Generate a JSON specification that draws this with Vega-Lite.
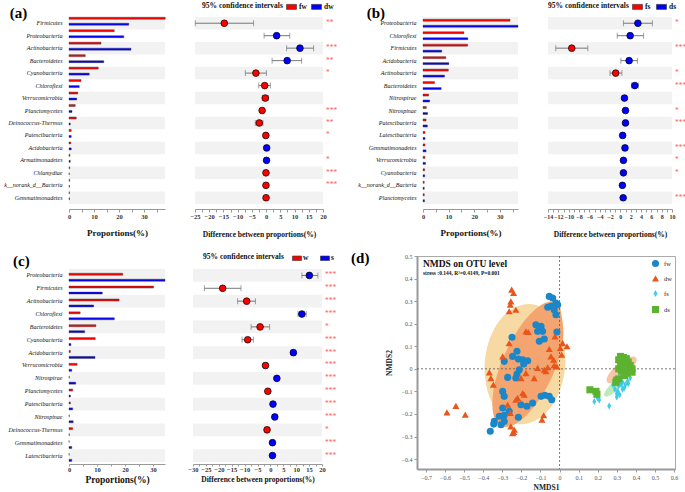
{
"$schema": "https://vega.github.io/schema/vega-lite/v6.json",
"padding": {"left": 3, "top": 1, "right": 0, "bottom": 0},
"spacing": 12,
"resolve": {"scale": {"x": "independent", "y": "independent", "fill": "independent", "shape": "independent", "opacity": "independent"}, "legend": {"fill": "independent", "shape": "independent"}},
"config": {"font": "Liberation Serif", "view": {"stroke": null}, "axis": {"labelFont": "Liberation Serif", "titleFont": "Liberation Serif", "grid": false, "labelOverlap": false}, "legend": {"labelFont": "Liberation Serif", "titleFont": "Liberation Serif"}, "title": {"font": "Liberation Serif"}},
"datasets": {
"a_bar": [
{"p": "Firmicutes", "r": 1, "fw": 38.5, "dw": 23.9},
{"p": "Proteobacteria", "r": 2, "fw": 18.1, "dw": 21.9},
{"p": "Actinobacteria", "r": 3, "fw": 12.8, "dw": 24.8},
{"p": "Bacteroidetes", "r": 4, "fw": 6.5, "dw": 13.9},
{"p": "Cyanobacteria", "r": 5, "fw": 11.7, "dw": 8.1},
{"p": "Chloroflexi", "r": 6, "fw": 4.8, "dw": 4.1},
{"p": "Verrucomicrobia", "r": 7, "fw": 3.5, "dw": 3.1},
{"p": "Planctomycetes", "r": 8, "fw": 2.5, "dw": 1.2},
{"p": "Deinococcus-Thermus", "r": 9, "fw": 2.9, "dw": 0.5},
{"p": "Patescibacteria", "r": 10, "fw": 0.9, "dw": 0.9},
{"p": "Acidobacteria", "r": 11, "fw": 0.7, "dw": 0.9},
{"p": "Armatimonadetes", "r": 12, "fw": 0.4, "dw": 0.5},
{"p": "Chlamydiae", "r": 13, "fw": 0.3, "dw": 0.1},
{"p": "k__norank_d__Bacteria", "r": 14, "fw": 0.3, "dw": 0.2},
{"p": "Gemmatimonadetes", "r": 15, "fw": 0.2, "dw": 0.2}
],
"a_ci": [
{"p": "Firmicutes", "r": 1, "d": -14.7, "lo": -24.9, "hi": -4.4, "g": "fw", "s": "**"},
{"p": "Proteobacteria", "r": 2, "d": 3.7, "lo": -0.7, "hi": 8.3, "g": "dw", "s": ""},
{"p": "Actinobacteria", "r": 3, "d": 11.9, "lo": 7.2, "hi": 16.7, "g": "dw", "s": "***"},
{"p": "Bacteroidetes", "r": 4, "d": 7.4, "lo": 2.1, "hi": 12.5, "g": "dw", "s": "**"},
{"p": "Cyanobacteria", "r": 5, "d": -3.6, "lo": -7.3, "hi": 0.1, "g": "fw", "s": "*"},
{"p": "Chloroflexi", "r": 6, "d": -0.5, "lo": -2.6, "hi": 1.5, "g": "fw", "s": ""},
{"p": "Verrucomicrobia", "r": 7, "d": -0.3, "lo": -1.3, "hi": 0.8, "g": "fw", "s": ""},
{"p": "Planctomycetes", "r": 8, "d": -1.4, "lo": -2.0, "hi": -0.8, "g": "fw", "s": "***"},
{"p": "Deinococcus-Thermus", "r": 9, "d": -2.4, "lo": -3.8, "hi": -1.1, "g": "fw", "s": "**"},
{"p": "Patescibacteria", "r": 10, "d": -0.1, "lo": -0.5, "hi": 0.3, "g": "fw", "s": "*"},
{"p": "Acidobacteria", "r": 11, "d": 0.2, "lo": -0.2, "hi": 0.6, "g": "dw", "s": ""},
{"p": "Armatimonadetes", "r": 12, "d": 0.15, "lo": 0.0, "hi": 0.3, "g": "dw", "s": "*"},
{"p": "Chlamydiae", "r": 13, "d": -0.05, "lo": -0.15, "hi": 0.05, "g": "fw", "s": "***"},
{"p": "k__norank_d__Bacteria", "r": 14, "d": -0.05, "lo": -0.15, "hi": 0.05, "g": "fw", "s": "***"},
{"p": "Gemmatimonadetes", "r": 15, "d": -0.02, "lo": -0.2, "hi": 0.15, "g": "fw", "s": ""}
],
"b_bar": [
{"p": "Proteobacteria", "r": 1, "fs": 34.0, "ds": 37.1},
{"p": "Chloroflexi", "r": 2, "fs": 16.0, "ds": 17.5},
{"p": "Firmicutes", "r": 3, "fs": 17.4, "ds": 7.3},
{"p": "Acidobacteria", "r": 4, "fs": 8.9, "ds": 10.1},
{"p": "Actinobacteria", "r": 5, "fs": 9.9, "ds": 8.4},
{"p": "Bacteroidetes", "r": 6, "fs": 4.5, "ds": 7.1},
{"p": "Nitrospirae", "r": 7, "fs": 2.2, "ds": 2.6},
{"p": "Nitrospinae", "r": 8, "fs": 1.3, "ds": 1.8},
{"p": "Patescibacteria", "r": 9, "fs": 1.2, "ds": 1.7},
{"p": "Latescibacteria", "r": 10, "fs": 0.8, "ds": 0.8},
{"p": "Gemmatimonadetes", "r": 11, "fs": 0.8, "ds": 1.2},
{"p": "Verrucomicrobia", "r": 12, "fs": 0.8, "ds": 1.0},
{"p": "Cyanobacteria", "r": 13, "fs": 0.65, "ds": 0.7},
{"p": "k__norank_d__Bacteria", "r": 14, "fs": 0.5, "ds": 0.5},
{"p": "Planctomycetes", "r": 15, "fs": 0.5, "ds": 0.6}
],
"b_ci": [
{"p": "Proteobacteria", "r": 1, "d": 3.4, "lo": 0.6, "hi": 6.2, "g": "ds", "s": "*"},
{"p": "Chloroflexi", "r": 2, "d": 1.9, "lo": -0.6, "hi": 4.5, "g": "ds", "s": ""},
{"p": "Firmicutes", "r": 3, "d": -9.4, "lo": -12.5, "hi": -6.3, "g": "fs", "s": "***"},
{"p": "Acidobacteria", "r": 4, "d": 1.7, "lo": 0.1, "hi": 3.3, "g": "ds", "s": ""},
{"p": "Actinobacteria", "r": 5, "d": -0.9, "lo": -2.0, "hi": 0.3, "g": "fs", "s": "*"},
{"p": "Bacteroidetes", "r": 6, "d": 2.8, "lo": 2.2, "hi": 3.5, "g": "ds", "s": "***"},
{"p": "Nitrospirae", "r": 7, "d": 0.8, "lo": 0.4, "hi": 1.2, "g": "ds", "s": ""},
{"p": "Nitrospinae", "r": 8, "d": 1.0, "lo": 0.7, "hi": 1.3, "g": "ds", "s": "*"},
{"p": "Patescibacteria", "r": 9, "d": 1.0, "lo": 0.7, "hi": 1.3, "g": "ds", "s": "***"},
{"p": "Latescibacteria", "r": 10, "d": 0.45, "lo": 0.25, "hi": 0.65, "g": "ds", "s": ""},
{"p": "Gemmatimonadetes", "r": 11, "d": 0.9, "lo": 0.6, "hi": 1.2, "g": "ds", "s": "***"},
{"p": "Verrucomicrobia", "r": 12, "d": 0.6, "lo": 0.4, "hi": 0.8, "g": "ds", "s": "*"},
{"p": "Cyanobacteria", "r": 13, "d": 0.6, "lo": 0.4, "hi": 0.8, "g": "ds", "s": "*"},
{"p": "k__norank_d__Bacteria", "r": 14, "d": 0.4, "lo": 0.2, "hi": 0.6, "g": "ds", "s": ""},
{"p": "Planctomycetes", "r": 15, "d": 0.55, "lo": 0.35, "hi": 0.75, "g": "ds", "s": "***"}
],
"c_bar": [
{"p": "Proteobacteria", "r": 1, "w": 19.2, "s": 34.3},
{"p": "Firmicutes", "r": 2, "w": 30.2, "s": 11.9},
{"p": "Actinobacteria", "r": 3, "w": 17.9, "s": 8.8},
{"p": "Chloroflexi", "r": 4, "w": 4.0, "s": 16.2},
{"p": "Bacteroidetes", "r": 5, "w": 9.6, "s": 5.6},
{"p": "Cyanobacteria", "r": 6, "w": 9.4, "s": 0.7},
{"p": "Acidobacteria", "r": 7, "w": 0.5, "s": 9.3},
{"p": "Verrucomicrobia", "r": 8, "w": 2.9, "s": 1.0},
{"p": "Nitrospirae", "r": 9, "w": 0.1, "s": 2.4},
{"p": "Planctomycetes", "r": 10, "w": 1.3, "s": 0.5},
{"p": "Patescibacteria", "r": 11, "w": 0.5, "s": 1.3},
{"p": "Nitrospinae", "r": 12, "w": 0.1, "s": 1.5},
{"p": "Deinococcus-Thermus", "r": 13, "w": 1.3, "s": 0.1},
{"p": "Gemmatimonadetes", "r": 14, "w": 0.05, "s": 1.0},
{"p": "Latescibacteria", "r": 15, "w": 0.05, "s": 1.0}
],
"c_ci": [
{"p": "Proteobacteria", "r": 1, "d": 15.1, "lo": 12.2, "hi": 18.4, "g": "s", "s": "***"},
{"p": "Firmicutes", "r": 2, "d": -18.5, "lo": -25.6, "hi": -11.4, "g": "w", "s": "***"},
{"p": "Actinobacteria", "r": 3, "d": -9.2, "lo": -12.7, "hi": -5.8, "g": "w", "s": "***"},
{"p": "Chloroflexi", "r": 4, "d": 12.2, "lo": 10.7, "hi": 13.9, "g": "s", "s": "***"},
{"p": "Bacteroidetes", "r": 5, "d": -4.0, "lo": -7.5, "hi": -0.3, "g": "w", "s": "*"},
{"p": "Cyanobacteria", "r": 6, "d": -8.8, "lo": -11.0, "hi": -6.6, "g": "w", "s": "***"},
{"p": "Acidobacteria", "r": 7, "d": 8.9, "lo": 8.1, "hi": 9.7, "g": "s", "s": "***"},
{"p": "Verrucomicrobia", "r": 8, "d": -1.9, "lo": -2.6, "hi": -1.2, "g": "w", "s": "***"},
{"p": "Nitrospirae", "r": 9, "d": 2.5, "lo": 2.0, "hi": 3.0, "g": "s", "s": "***"},
{"p": "Planctomycetes", "r": 10, "d": -1.0, "lo": -1.5, "hi": -0.5, "g": "w", "s": "***"},
{"p": "Patescibacteria", "r": 11, "d": 1.0, "lo": 0.6, "hi": 1.4, "g": "s", "s": "***"},
{"p": "Nitrospinae", "r": 12, "d": 1.7, "lo": 1.4, "hi": 2.0, "g": "s", "s": "***"},
{"p": "Deinococcus-Thermus", "r": 13, "d": -1.3, "lo": -2.1, "hi": -0.5, "g": "w", "s": "*"},
{"p": "Gemmatimonadetes", "r": 14, "d": 0.8, "lo": 0.5, "hi": 1.1, "g": "s", "s": "***"},
{"p": "Latescibacteria", "r": 15, "d": 0.8, "lo": 0.5, "hi": 1.1, "g": "s", "s": "***"}
],
"ell": [
{"e": "big", "i": 0, "x": -0.150, "y": 0.287}, {"e": "big", "i": 1, "x": -0.049, "y": 0.242}, {"e": "big", "i": 2, "x": 0.016, "y": 0.138}, {"e": "big", "i": 3, "x": 0.029, "y": 0.003}, {"e": "big", "i": 4, "x": -0.015, "y": -0.128}, {"e": "big", "i": 5, "x": -0.103, "y": -0.218}, {"e": "big", "i": 6, "x": -0.212, "y": -0.245}, {"e": "big", "i": 7, "x": -0.313, "y": -0.200}, {"e": "big", "i": 8, "x": -0.378, "y": -0.096}, {"e": "big", "i": 9, "x": -0.391, "y": 0.039}, {"e": "big", "i": 10, "x": -0.347, "y": 0.170}, {"e": "big", "i": 11, "x": -0.259, "y": 0.260},
{"e": "ora", "i": 0, "x": -0.014, "y": 0.296}, {"e": "ora", "i": 1, "x": 0.010, "y": 0.238}, {"e": "ora", "i": 2, "x": 0.018, "y": 0.125}, {"e": "ora", "i": 3, "x": -0.035, "y": -0.027}, {"e": "ora", "i": 4, "x": -0.125, "y": -0.158}, {"e": "ora", "i": 5, "x": -0.224, "y": -0.241}, {"e": "ora", "i": 6, "x": -0.307, "y": -0.254}, {"e": "ora", "i": 7, "x": -0.349, "y": -0.193}, {"e": "ora", "i": 8, "x": -0.342, "y": -0.075}, {"e": "ora", "i": 9, "x": -0.285, "y": 0.069}, {"e": "ora", "i": 10, "x": -0.195, "y": 0.201}, {"e": "ora", "i": 11, "x": -0.096, "y": 0.283},
{"e": "pea", "i": 0, "x": 0.400, "y": 0.050}, {"e": "pea", "i": 1, "x": 0.402, "y": 0.031}, {"e": "pea", "i": 2, "x": 0.383, "y": 0.003}, {"e": "pea", "i": 3, "x": 0.349, "y": -0.028}, {"e": "pea", "i": 4, "x": 0.308, "y": -0.052}, {"e": "pea", "i": 5, "x": 0.272, "y": -0.064}, {"e": "pea", "i": 6, "x": 0.250, "y": -0.060}, {"e": "pea", "i": 7, "x": 0.248, "y": -0.041}, {"e": "pea", "i": 8, "x": 0.267, "y": -0.013}, {"e": "pea", "i": 9, "x": 0.301, "y": 0.018}, {"e": "pea", "i": 10, "x": 0.342, "y": 0.042}, {"e": "pea", "i": 11, "x": 0.378, "y": 0.054},
{"e": "grn", "i": 0, "x": 0.325, "y": -0.050}, {"e": "grn", "i": 1, "x": 0.325, "y": -0.062}, {"e": "grn", "i": 2, "x": 0.313, "y": -0.081}, {"e": "grn", "i": 3, "x": 0.292, "y": -0.100}, {"e": "grn", "i": 4, "x": 0.268, "y": -0.116}, {"e": "grn", "i": 5, "x": 0.247, "y": -0.123}, {"e": "grn", "i": 6, "x": 0.235, "y": -0.120}, {"e": "grn", "i": 7, "x": 0.235, "y": -0.108}, {"e": "grn", "i": 8, "x": 0.247, "y": -0.090}, {"e": "grn", "i": 9, "x": 0.268, "y": -0.070}, {"e": "grn", "i": 10, "x": 0.292, "y": -0.055}, {"e": "grn", "i": 11, "x": 0.313, "y": -0.047}
],
"nmds_title": [
{"t": "NMDS on OTU level", "x": -0.716, "y": 0.452, "k": "main"},
{"t": "stress :0.144, R²=0.4149, P=0.001", "x": -0.716, "y": 0.417, "k": "sub"}
],
"nmds": [
{"g": "fw", "x": -0.054, "y": 0.321}, {"g": "fw", "x": -0.036, "y": 0.314}, {"g": "fw", "x": -0.019, "y": 0.292}, {"g": "fw", "x": -0.045, "y": 0.277}, {"g": "fw", "x": -0.028, "y": 0.262}, {"g": "fw", "x": -0.019, "y": 0.24}, {"g": "fw", "x": -0.062, "y": 0.273}, {"g": "fw", "x": -0.01, "y": 0.284}, {"g": "fw", "x": -0.124, "y": 0.195}, {"g": "fw", "x": -0.097, "y": 0.188}, {"g": "fw", "x": -0.115, "y": 0.166}, {"g": "fw", "x": -0.089, "y": 0.166}, {"g": "fw", "x": -0.106, "y": 0.122}, {"g": "fw", "x": -0.08, "y": 0.132}, {"g": "fw", "x": -0.014, "y": 0.163}, {"g": "fw", "x": -0.249, "y": 0.14}, {"g": "fw", "x": -0.223, "y": 0.078}, {"g": "fw", "x": -0.246, "y": 0.055}, {"g": "fw", "x": -0.216, "y": 0.043}, {"g": "fw", "x": -0.193, "y": 0.04}, {"g": "fw", "x": -0.167, "y": 0.036}, {"g": "fw", "x": -0.29, "y": 0.033}, {"g": "fw", "x": -0.188, "y": 0.021}, {"g": "fw", "x": -0.211, "y": -0.004}, {"g": "fw", "x": -0.223, "y": -0.023}, {"g": "fw", "x": -0.272, "y": -0.038}, {"g": "fw", "x": -0.229, "y": -0.041}, {"g": "fw", "x": -0.298, "y": -0.1}, {"g": "fw", "x": -0.29, "y": -0.122}, {"g": "fw", "x": -0.202, "y": -0.159}, {"g": "fw", "x": -0.171, "y": -0.166}, {"g": "fw", "x": -0.141, "y": -0.152}, {"g": "fw", "x": -0.097, "y": -0.122}, {"g": "fw", "x": -0.077, "y": -0.117}, {"g": "fw", "x": -0.054, "y": -0.122}, {"g": "fw", "x": -0.041, "y": -0.137}, {"g": "fw", "x": -0.298, "y": -0.174}, {"g": "fw", "x": -0.264, "y": -0.188}, {"g": "fw", "x": -0.316, "y": -0.21}, {"g": "fw", "x": -0.29, "y": -0.206}, {"g": "fw", "x": -0.216, "y": -0.215}, {"g": "fw", "x": -0.342, "y": -0.233}, {"g": "fw", "x": -0.345, "y": -0.245}, {"g": "fw", "x": -0.307, "y": -0.248}, {"g": "fw", "x": -0.29, "y": -0.233}, {"g": "fw", "x": -0.363, "y": -0.277},
{"g": "dw", "x": -0.251, "y": 0.351}, {"g": "dw", "x": -0.241, "y": 0.336}, {"g": "dw", "x": -0.255, "y": 0.299}, {"g": "dw", "x": -0.264, "y": 0.255}, {"g": "dw", "x": -0.229, "y": 0.262}, {"g": "dw", "x": -0.258, "y": 0.284}, {"g": "dw", "x": -0.176, "y": 0.166}, {"g": "dw", "x": -0.164, "y": 0.163}, {"g": "dw", "x": -0.264, "y": 0.114}, {"g": "dw", "x": -0.298, "y": 0.055}, {"g": "dw", "x": -0.024, "y": 0.144}, {"g": "dw", "x": -0.054, "y": 0.088}, {"g": "dw", "x": -0.045, "y": 0.055}, {"g": "dw", "x": -0.031, "y": 0.04}, {"g": "dw", "x": 0.004, "y": 0.092}, {"g": "dw", "x": 0.016, "y": 0.114}, {"g": "dw", "x": 0.039, "y": 0.1}, {"g": "dw", "x": 0.011, "y": 0.063}, {"g": "dw", "x": -0.115, "y": 0.004}, {"g": "dw", "x": -0.08, "y": -0.004}, {"g": "dw", "x": -0.062, "y": 0.007}, {"g": "dw", "x": -0.028, "y": 0.016}, {"g": "dw", "x": -0.014, "y": 0.011}, {"g": "dw", "x": -0.071, "y": -0.011}, {"g": "dw", "x": -0.368, "y": -0.016}, {"g": "dw", "x": -0.36, "y": -0.041}, {"g": "dw", "x": -0.347, "y": -0.07}, {"g": "dw", "x": -0.176, "y": -0.019}, {"g": "dw", "x": -0.202, "y": -0.041}, {"g": "dw", "x": -0.133, "y": -0.041}, {"g": "dw", "x": -0.59, "y": -0.193}, {"g": "dw", "x": -0.543, "y": -0.164}, {"g": "dw", "x": -0.494, "y": -0.203}, {"g": "dw", "x": -0.22, "y": -0.129}, {"g": "dw", "x": -0.193, "y": -0.107}, {"g": "dw", "x": -0.185, "y": -0.115}, {"g": "dw", "x": -0.229, "y": -0.137}, {"g": "dw", "x": -0.272, "y": -0.159}, {"g": "dw", "x": -0.258, "y": -0.196}, {"g": "dw", "x": -0.255, "y": -0.255}, {"g": "dw", "x": -0.241, "y": -0.28}, {"g": "dw", "x": -0.083, "y": -0.206}, {"g": "dw", "x": -0.092, "y": -0.226}, {"g": "dw", "x": -0.246, "y": -0.285}, {"g": "dw", "x": -0.237, "y": -0.27},
{"g": "fs", "x": 0.182, "y": -0.145}, {"g": "fs", "x": 0.2, "y": -0.13}, {"g": "fs", "x": 0.208, "y": -0.138}, {"g": "fs", "x": 0.26, "y": -0.165}, {"g": "fs", "x": 0.29, "y": -0.09}, {"g": "fs", "x": 0.3, "y": -0.11}, {"g": "fs", "x": 0.305, "y": -0.1}, {"g": "fs", "x": 0.31, "y": -0.075}, {"g": "fs", "x": 0.322, "y": -0.07}, {"g": "fs", "x": 0.33, "y": -0.06}, {"g": "fs", "x": 0.339, "y": -0.085}, {"g": "fs", "x": 0.345, "y": -0.07}, {"g": "fs", "x": 0.357, "y": -0.055}, {"g": "fs", "x": 0.36, "y": -0.065}, {"g": "fs", "x": 0.35, "y": -0.03}, {"g": "fs", "x": 0.32, "y": -0.02}, {"g": "fs", "x": 0.31, "y": -0.04}, {"g": "fs", "x": 0.287, "y": -0.055}, {"g": "fs", "x": 0.28, "y": -0.07}, {"g": "fs", "x": 0.37, "y": -0.04}, {"g": "fs", "x": 0.33, "y": -0.09}, {"g": "fs", "x": 0.3, "y": -0.125}, {"g": "fs", "x": 0.315, "y": -0.115},
{"g": "ds", "x": 0.31, "y": 0.04}, {"g": "ds", "x": 0.32, "y": 0.055}, {"g": "ds", "x": 0.335, "y": 0.05}, {"g": "ds", "x": 0.35, "y": 0.045}, {"g": "ds", "x": 0.36, "y": 0.03}, {"g": "ds", "x": 0.33, "y": 0.03}, {"g": "ds", "x": 0.345, "y": 0.02}, {"g": "ds", "x": 0.37, "y": 0.015}, {"g": "ds", "x": 0.38, "y": 0.0}, {"g": "ds", "x": 0.36, "y": -0.005}, {"g": "ds", "x": 0.34, "y": 0.005}, {"g": "ds", "x": 0.32, "y": 0.015}, {"g": "ds", "x": 0.31, "y": 0.0}, {"g": "ds", "x": 0.325, "y": -0.01}, {"g": "ds", "x": 0.355, "y": -0.02}, {"g": "ds", "x": 0.38, "y": -0.015}, {"g": "ds", "x": 0.3, "y": -0.05}, {"g": "ds", "x": 0.31, "y": -0.045}, {"g": "ds", "x": 0.295, "y": -0.06}, {"g": "ds", "x": 0.159, "y": -0.093}, {"g": "ds", "x": 0.191, "y": -0.1}, {"g": "ds", "x": 0.196, "y": -0.113}, {"g": "ds", "x": 0.34, "y": -0.03}
]
},
"vconcat": [
{
"hconcat": [
{
"width": 96, "height": 187,
"title": {"text": "(a)", "anchor": "start", "frame": "bounds", "fontSize": 15, "fontWeight": "bold", "color": "#000", "offset": -4, "dx": 6},
"data": {"name": "a_bar"},
"layer": [
{"mark": {"type": "rect", "fill": "#f2f2f2"},
"encoding": {
"y": {"field": "p", "type": "nominal", "sort": {"field": "r", "op": "min"}, "scale": {"paddingInner": 0, "paddingOuter": 0}, "axis": {"title": null, "domain": false, "ticks": false, "labelFontStyle": "italic", "labelFontSize": 6, "labelColor": "#111", "labelPadding": 7, "labelLimit": 200}},
"x": {"datum": 0, "type": "quantitative", "scale": {"domain": [0, 38.4], "nice": false, "zero": false}, "axis": {"title": "Proportions(%)", "offset": 5, "values": [0, 5, 10, 15, 20, 25, 30, 35], "tickCount": 100, "labelExpr": "datum.value % 10 == 0 ? datum.label : ''", "format": "d", "domainColor": "#999", "tickColor": "#999", "tickSize": 3, "labelPadding": 1, "labelFontSize": 6.5, "labelFontWeight": "bold", "labelColor": "#333", "labelFlush": false, "labelOverlap": false, "titleFontSize": 9, "titleFontWeight": "bold", "titleColor": "#111", "titlePadding": 9}},
"x2": {"datum": 38.4},
"opacity": {"condition": {"test": "datum.r % 2 == 1", "value": 1}, "value": 0}
}},
{"transform": [{"fold": ["fw", "dw"], "as": ["g", "v"]}],
"mark": {"type": "bar", "stroke": "#333", "strokeWidth": 0.4},
"encoding": {
"y": {"field": "p", "type": "nominal", "sort": {"field": "r", "op": "min"}},
"yOffset": {"field": "g", "type": "nominal", "sort": ["fw", "dw"], "scale": {"paddingOuter": 0.12, "paddingInner": 0}},
"x": {"field": "v", "type": "quantitative"},
"fill": {"field": "g", "type": "nominal", "scale": {"domain": ["fw", "dw"], "range": ["#ff0000", "#0000ff"]}, "legend": null}
}}
]
},
{
"width": 128, "height": 187,
"data": {"name": "a_ci"},
"encoding": {"y": {"field": "p", "type": "nominal", "sort": {"field": "r", "op": "min"}, "scale": {"paddingInner": 0, "paddingOuter": 0}, "axis": null}},
"layer": [
{"mark": {"type": "rect", "fill": "#f2f2f2"}, "encoding": {"x": {"datum": -25, "type": "quantitative", "scale": {"domain": [-25, 20], "nice": false, "zero": false}, "axis": {"title": "Difference between proportions(%)", "offset": 5, "values": [-25, -22.5, -20, -17.5, -15, -12.5, -10, -7.5, -5, -2.5, 0, 2.5, 5, 7.5, 10, 12.5, 15, 17.5, 20], "tickCount": 100, "labelExpr": "datum.value % 5 == 0 ? datum.label : ''", "format": "d", "domainColor": "#999", "tickColor": "#999", "tickSize": 3, "labelPadding": 1, "labelFontSize": 6.5, "labelFontWeight": "bold", "labelColor": "#333", "labelFlush": false, "labelOverlap": false, "titleFontSize": 7.5, "titleFontWeight": "bold", "titleColor": "#111", "titlePadding": 11}}, "x2": {"datum": 20}, "opacity": {"condition": {"test": "datum.r % 2 == 1", "value": 1}, "value": 0}}},
{"mark": {"type": "rule", "color": "#777", "strokeWidth": 1}, "encoding": {"x": {"field": "lo", "type": "quantitative"}, "x2": {"field": "hi"}}},
{"mark": {"type": "tick", "color": "#777", "size": 6, "thickness": 1}, "encoding": {"x": {"field": "lo", "type": "quantitative"}}},
{"mark": {"type": "tick", "color": "#777", "size": 6, "thickness": 1}, "encoding": {"x": {"field": "hi", "type": "quantitative"}}},
{"mark": {"type": "circle", "stroke": "#000", "strokeWidth": 0.7, "size": 45, "opacity": 1}, "encoding": {"x": {"field": "d", "type": "quantitative"}, "fill": {"field": "g", "type": "nominal", "scale": {"domain": ["fw", "dw"], "range": ["#ff0000", "#0000ff"]}, "legend": {"title": "95% confidence intervals", "orient": "none", "legendX": 7, "legendY": -16, "direction": "horizontal", "titleOrient": "left", "titleFontSize": 7.5, "titleFontWeight": "bold", "titleColor": "#111", "titlePadding": 3, "labelFontSize": 7.5, "labelFontWeight": "bold", "labelColor": "#111", "labelOffset": 2, "symbolType": "M-1,-0.5H1V0.5H-1Z", "symbolSize": 100, "symbolStrokeColor": "#333", "symbolStrokeWidth": 0.6, "columnPadding": 3}}}},
{"mark": {"type": "text", "align": "left", "dx": 3, "color": "#ff6060", "fontSize": 7.5, "baseline": "middle"}, "encoding": {"x": {"datum": 20, "type": "quantitative"}, "text": {"field": "s"}}}
]
},
{"width": 40, "height": 1, "data": {"values": [{}]}, "mark": {"type": "point", "opacity": 0}, "encoding": {}},
{
"width": 95, "height": 187,
"title": {"text": "(b)", "anchor": "start", "frame": "bounds", "fontSize": 15, "fontWeight": "bold", "color": "#000", "offset": -4, "dx": 9},
"data": {"name": "b_bar"},
"layer": [
{"mark": {"type": "rect", "fill": "#f2f2f2"},
"encoding": {
"y": {"field": "p", "type": "nominal", "sort": {"field": "r", "op": "min"}, "scale": {"paddingInner": 0, "paddingOuter": 0}, "axis": {"title": null, "domain": false, "ticks": false, "labelFontStyle": "italic", "labelFontSize": 6, "labelColor": "#111", "labelPadding": 7, "labelLimit": 200}},
"x": {"datum": 0, "type": "quantitative", "scale": {"domain": [0, 37.1], "nice": false, "zero": false}, "axis": {"title": "Proportions(%)", "offset": 5, "values": [0, 5, 10, 15, 20, 25, 30, 35], "tickCount": 100, "labelExpr": "datum.value % 10 == 0 ? datum.label : ''", "format": "d", "domainColor": "#999", "tickColor": "#999", "tickSize": 3, "labelPadding": 1, "labelFontSize": 6.5, "labelFontWeight": "bold", "labelColor": "#333", "labelFlush": false, "labelOverlap": false, "titleFontSize": 9, "titleFontWeight": "bold", "titleColor": "#111", "titlePadding": 9}},
"x2": {"datum": 37.1},
"opacity": {"condition": {"test": "datum.r % 2 == 1", "value": 1}, "value": 0}
}},
{"transform": [{"fold": ["fs", "ds"], "as": ["g", "v"]}],
"mark": {"type": "bar", "stroke": "#333", "strokeWidth": 0.4},
"encoding": {
"y": {"field": "p", "type": "nominal", "sort": {"field": "r", "op": "min"}},
"yOffset": {"field": "g", "type": "nominal", "sort": ["fs", "ds"], "scale": {"paddingOuter": 0.12, "paddingInner": 0}},
"x": {"field": "v", "type": "quantitative"},
"fill": {"field": "g", "type": "nominal", "scale": {"domain": ["fs", "ds"], "range": ["#ff0000", "#0000ff"]}, "legend": null}
}}
]
},
{
"width": 124, "height": 187,
"data": {"name": "b_ci"},
"encoding": {"y": {"field": "p", "type": "nominal", "sort": {"field": "r", "op": "min"}, "scale": {"paddingInner": 0, "paddingOuter": 0}, "axis": null}},
"layer": [
{"mark": {"type": "rect", "fill": "#f2f2f2"}, "encoding": {"x": {"datum": -14, "type": "quantitative", "scale": {"domain": [-14, 10], "nice": false, "zero": false}, "axis": {"title": "Difference between proportions(%)", "offset": 5, "values": [-14, -13, -12, -11, -10, -9, -8, -7, -6, -5, -4, -3, -2, -1, 0, 1, 2, 3, 4, 5, 6, 7, 8, 9, 10], "tickCount": 100, "labelExpr": "datum.value % 2 == 0 ? datum.label : ''", "format": "d", "domainColor": "#999", "tickColor": "#999", "tickSize": 3, "labelPadding": 1, "labelFontSize": 6, "labelFontWeight": "bold", "labelColor": "#333", "labelFlush": false, "labelOverlap": false, "titleFontSize": 7.5, "titleFontWeight": "bold", "titleColor": "#111", "titlePadding": 11}}, "x2": {"datum": 10}, "opacity": {"condition": {"test": "datum.r % 2 == 1", "value": 1}, "value": 0}}},
{"mark": {"type": "rule", "color": "#777", "strokeWidth": 1}, "encoding": {"x": {"field": "lo", "type": "quantitative"}, "x2": {"field": "hi"}}},
{"mark": {"type": "tick", "color": "#777", "size": 6, "thickness": 1}, "encoding": {"x": {"field": "lo", "type": "quantitative"}}},
{"mark": {"type": "tick", "color": "#777", "size": 6, "thickness": 1}, "encoding": {"x": {"field": "hi", "type": "quantitative"}}},
{"mark": {"type": "circle", "stroke": "#000", "strokeWidth": 0.7, "size": 45, "opacity": 1}, "encoding": {"x": {"field": "d", "type": "quantitative"}, "fill": {"field": "g", "type": "nominal", "scale": {"domain": ["fs", "ds"], "range": ["#ff0000", "#0000ff"]}, "legend": {"title": "95% confidence intervals", "orient": "none", "legendX": 0, "legendY": -16, "direction": "horizontal", "titleOrient": "left", "titleFontSize": 7.5, "titleFontWeight": "bold", "titleColor": "#111", "titlePadding": 3, "labelFontSize": 7.5, "labelFontWeight": "bold", "labelColor": "#111", "labelOffset": 2, "symbolType": "M-1,-0.5H1V0.5H-1Z", "symbolSize": 100, "symbolStrokeColor": "#333", "symbolStrokeWidth": 0.6, "columnPadding": 4}}}},
{"mark": {"type": "text", "align": "left", "dx": 3, "color": "#ff6060", "fontSize": 7.5, "baseline": "middle"}, "encoding": {"x": {"datum": 10, "type": "quantitative"}, "text": {"field": "s"}}}
]
}
],
"spacing": 30, "bounds": "flush",
"resolve": {"scale": {"x": "independent", "y": "independent", "fill": "independent", "opacity": "independent"}, "legend": {"fill": "independent"}}
},
{
"hconcat": [
{
"width": 96, "height": 206,
"title": {"text": "(c)", "anchor": "start", "frame": "bounds", "fontSize": 15, "fontWeight": "bold", "color": "#000", "offset": -13, "dx": 5},
"data": {"name": "c_bar"},
"layer": [
{"mark": {"type": "rect", "fill": "#f2f2f2"},
"encoding": {
"y": {"field": "p", "type": "nominal", "sort": {"field": "r", "op": "min"}, "scale": {"paddingInner": 0, "paddingOuter": 0.505, "align": 1}, "axis": {"title": null, "domain": false, "ticks": false, "labelFontStyle": "italic", "labelFontSize": 6, "labelColor": "#111", "labelPadding": 7, "labelLimit": 200}},
"x": {"datum": 0, "type": "quantitative", "scale": {"domain": [0, 34.3], "nice": false, "zero": false}, "axis": {"title": "Proportions(%)", "offset": 2, "values": [0, 5, 10, 15, 20, 25, 30], "tickCount": 100, "labelExpr": "datum.value % 10 == 0 ? datum.label : ''", "format": "d", "domainColor": "#999", "tickColor": "#999", "tickSize": 2, "labelPadding": 0, "labelFontSize": 6.5, "labelFontWeight": "bold", "labelColor": "#333", "labelFlush": false, "labelOverlap": false, "titleFontSize": 9.5, "titleFontWeight": "bold", "titleColor": "#111", "titlePadding": 2}},
"x2": {"datum": 34.3},
"opacity": {"condition": {"test": "datum.r % 2 == 1", "value": 1}, "value": 0}
}},
{"transform": [{"fold": ["w", "s"], "as": ["g", "v"]}],
"mark": {"type": "bar", "stroke": "#333", "strokeWidth": 0.4},
"encoding": {
"y": {"field": "p", "type": "nominal", "sort": {"field": "r", "op": "min"}},
"yOffset": {"field": "g", "type": "nominal", "sort": ["w", "s"], "scale": {"paddingOuter": 0.12, "paddingInner": 0}},
"x": {"field": "v", "type": "quantitative"},
"fill": {"field": "g", "type": "nominal", "scale": {"domain": ["w", "s"], "range": ["#ff0000", "#0000ff"]}, "legend": null}
}}
]
},
{
"width": 129, "height": 206,
"data": {"name": "c_ci"},
"encoding": {"y": {"field": "p", "type": "nominal", "sort": {"field": "r", "op": "min"}, "scale": {"paddingInner": 0, "paddingOuter": 0.505, "align": 1}, "axis": null}},
"layer": [
{"mark": {"type": "rect", "fill": "#f2f2f2"}, "encoding": {"x": {"datum": -30, "type": "quantitative", "scale": {"domain": [-30, 20], "nice": false, "zero": false}, "axis": {"title": "Difference between proportions(%)", "offset": 2, "values": [-30, -27.5, -25, -22.5, -20, -17.5, -15, -12.5, -10, -7.5, -5, -2.5, 0, 2.5, 5, 7.5, 10, 12.5, 15, 17.5, 20], "tickCount": 100, "labelExpr": "datum.value % 5 == 0 ? datum.label : ''", "format": "d", "domainColor": "#999", "tickColor": "#999", "tickSize": 2, "labelPadding": 0, "labelFontSize": 6.5, "labelFontWeight": "bold", "labelColor": "#333", "labelFlush": false, "labelOverlap": false, "titleFontSize": 7.5, "titleFontWeight": "bold", "titleColor": "#111", "titlePadding": 3}}, "x2": {"datum": 20}, "opacity": {"condition": {"test": "datum.r % 2 == 1", "value": 1}, "value": 0}}},
{"mark": {"type": "rule", "color": "#777", "strokeWidth": 1}, "encoding": {"x": {"field": "lo", "type": "quantitative"}, "x2": {"field": "hi"}}},
{"mark": {"type": "tick", "color": "#777", "size": 6, "thickness": 1}, "encoding": {"x": {"field": "lo", "type": "quantitative"}}},
{"mark": {"type": "tick", "color": "#777", "size": 6, "thickness": 1}, "encoding": {"x": {"field": "hi", "type": "quantitative"}}},
{"mark": {"type": "circle", "stroke": "#000", "strokeWidth": 0.7, "size": 45, "opacity": 1}, "encoding": {"x": {"field": "d", "type": "quantitative"}, "fill": {"field": "g", "type": "nominal", "scale": {"domain": ["w", "s"], "range": ["#ff0000", "#0000ff"]}, "legend": {"title": "95% confidence intervals", "orient": "none", "legendX": 10, "legendY": -3, "direction": "horizontal", "titleOrient": "left", "titleFontSize": 7.5, "titleFontWeight": "bold", "titleColor": "#111", "titlePadding": 8, "labelFontSize": 7.5, "labelFontWeight": "bold", "labelColor": "#111", "labelOffset": 1, "symbolType": "M-1,-0.5H1V0.5H-1Z", "symbolSize": 81, "symbolStrokeColor": "#333", "symbolStrokeWidth": 0.6, "columnPadding": 10}}}},
{"mark": {"type": "text", "align": "left", "dx": 3, "color": "#ff6060", "fontSize": 7.5, "baseline": "middle"}, "encoding": {"x": {"datum": 20, "type": "quantitative"}, "text": {"field": "s"}}}
]
},
{"width": 39, "height": 1, "data": {"values": [{}]}, "mark": {"type": "point", "opacity": 0}, "encoding": {}},
{
"width": 258, "height": 213,
"view": {"stroke": "#aaa", "strokeWidth": 1},
"title": {"text": "(d)", "anchor": "start", "frame": "bounds", "fontSize": 15, "fontWeight": "bold", "color": "#000", "offset": -13, "dx": -34},
"layer": [
{"data": {"name": "ell"}, "transform": [{"filter": "datum.e == 'big'"}], "mark": {"type": "line", "interpolate": "cardinal-closed", "fill": "#f6d9a3", "strokeWidth": 0}, "encoding": {
"x": {"field": "x", "type": "quantitative", "scale": {"domain": [-0.747, 0.605], "nice": false, "zero": false}, "axis": {"title": "NMDS1", "values": [-0.7, -0.6, -0.5, -0.4, -0.3, -0.2, -0.1, 0, 0.1, 0.2, 0.3, 0.4, 0.5, 0.6], "tickCount": 100, "format": ".1~f", "labelFontSize": 6, "labelColor": "#555", "tickColor": "#999", "tickSize": 3, "domainColor": "#999", "domainWidth": 2, "titleFontSize": 7.5, "titleFontWeight": "bold", "titleColor": "#222", "labelPadding": 2, "titlePadding": 3, "labelFlush": false, "labelOverlap": false}},
"y": {"field": "y", "type": "quantitative", "scale": {"domain": [-0.444, 0.5], "nice": false, "zero": false}, "axis": {"title": "NMDS2", "values": [-0.4, -0.3, -0.2, -0.1, 0, 0.1, 0.2, 0.3, 0.4, 0.5], "tickCount": 100, "format": ".1~f", "labelFontSize": 6, "labelColor": "#555", "tickColor": "#999", "tickSize": 3, "domainColor": "#999", "domainWidth": 2, "titleFontSize": 7.5, "titleFontWeight": "bold", "titleColor": "#222", "labelPadding": 2, "titlePadding": 8, "labelFlush": false, "labelOverlap": false}},
"order": {"field": "i", "type": "quantitative"}}},
{"data": {"name": "ell"}, "transform": [{"filter": "datum.e == 'ora'"}], "mark": {"type": "line", "interpolate": "cardinal-closed", "fill": "#f4a46f", "strokeWidth": 0}, "encoding": {"x": {"field": "x", "type": "quantitative"}, "y": {"field": "y", "type": "quantitative"}, "order": {"field": "i", "type": "quantitative"}}},
{"data": {"name": "ell"}, "transform": [{"filter": "datum.e == 'pea'"}], "mark": {"type": "line", "interpolate": "cardinal-closed", "fill": "#f8c4a6", "strokeWidth": 0}, "encoding": {"x": {"field": "x", "type": "quantitative"}, "y": {"field": "y", "type": "quantitative"}, "order": {"field": "i", "type": "quantitative"}}},
{"data": {"name": "ell"}, "transform": [{"filter": "datum.e == 'grn'"}], "mark": {"type": "line", "interpolate": "cardinal-closed", "fill": "#bdebb8", "strokeWidth": 0}, "encoding": {"x": {"field": "x", "type": "quantitative"}, "y": {"field": "y", "type": "quantitative"}, "order": {"field": "i", "type": "quantitative"}}},
{"data": {"values": [{}]}, "mark": {"type": "rule", "strokeDash": [2, 2], "color": "#555", "strokeWidth": 0.8}, "encoding": {"x": {"datum": 0}}},
{"data": {"values": [{}]}, "mark": {"type": "rule", "strokeDash": [2, 2], "color": "#555", "strokeWidth": 0.8}, "encoding": {"y": {"datum": 0}}},
{"data": {"name": "nmds_title"}, "transform": [{"filter": "datum.k == 'main'"}], "mark": {"type": "text", "align": "left", "baseline": "alphabetic", "fontSize": 9.5, "fontWeight": "bold", "color": "#111"}, "encoding": {"x": {"field": "x", "type": "quantitative"}, "y": {"field": "y", "type": "quantitative"}, "text": {"field": "t"}}},
{"data": {"name": "nmds_title"}, "transform": [{"filter": "datum.k == 'sub'"}], "mark": {"type": "text", "align": "left", "baseline": "alphabetic", "fontSize": 5.5, "fontWeight": "bold", "color": "#111"}, "encoding": {"x": {"field": "x", "type": "quantitative"}, "y": {"field": "y", "type": "quantitative"}, "text": {"field": "t"}}},
{"data": {"name": "nmds"}, "mark": {"type": "point", "filled": true, "opacity": 1, "size": 50}, "encoding": {
"x": {"field": "x", "type": "quantitative"},
"y": {"field": "y", "type": "quantitative"},
"shape": {"field": "g", "type": "nominal", "scale": {"domain": ["fw", "dw", "fs", "ds"], "range": ["circle", "triangle-up", "M0,-1L0.55,0L0,1L-0.55,0Z", "square"]}, "legend": {"title": null, "orient": "none", "legendX": 234, "legendY": 3, "labelFontSize": 6.5, "labelColor": "#222", "symbolSize": 50, "rowPadding": 1, "labelOffset": 4}},
"fill": {"field": "g", "type": "nominal", "scale": {"domain": ["fw", "dw", "fs", "ds"], "range": ["#1b87c9", "#e9561c", "#3fcbea", "#5db330"]}, "legend": {"title": null, "orient": "none", "legendX": 234, "legendY": 3, "labelFontSize": 6.5, "labelColor": "#222", "symbolSize": 50, "rowPadding": 1, "labelOffset": 4}}
}}
]
}
],
"spacing": 28, "bounds": "flush",
"resolve": {"scale": {"x": "independent", "y": "independent", "fill": "independent", "shape": "independent", "opacity": "independent"}, "legend": {"fill": "independent", "shape": "independent"}}
}
]
}
